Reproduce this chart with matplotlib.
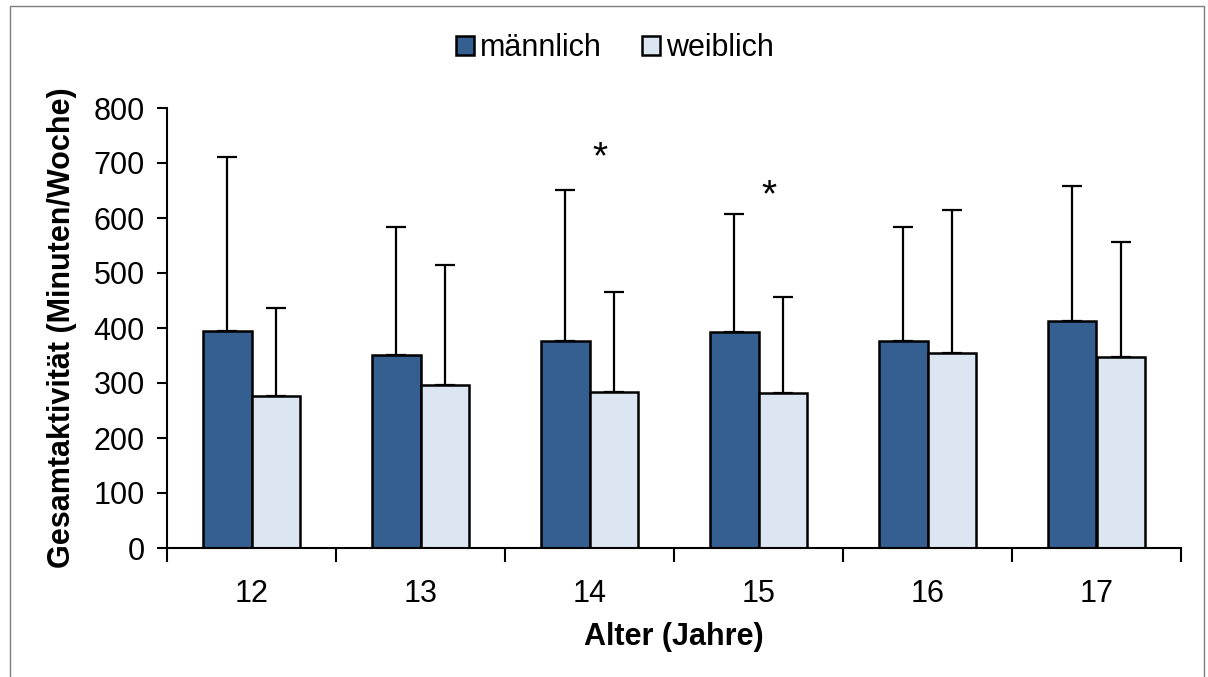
import matplotlib.pyplot as plt
import numpy as np
from matplotlib.patches import Rectangle

plt.rcParams['font.family'] = ['Liberation Sans', 'DejaVu Sans']

alter = ['12', '13', '14', '15', '16', '17']
maennlich = [395, 351, 377, 392, 376, 413]
maennlich_sd = [316, 233, 274, 215, 208, 246]
weiblich = [277, 297, 283, 282, 355, 347]
weiblich_sd = [159, 217, 182, 175, 260, 209]
# Signifikanz-Sterne: (Index, Höhe)
sterne = [(2, 708), (3, 639)]

fig = plt.figure(figsize=(12.08, 6.77), dpi=100)
ax = fig.add_axes([167/1208, 1-548/677, (1181-167)/1208, 440/677])

x = np.arange(len(alter))
w = 0.287
ek = dict(ecolor='black', elinewidth=1.6, capsize=7, capthick=1.6)
ax.bar(x - w/2, maennlich, w, color='#365f91', edgecolor='black', linewidth=1.8,
       yerr=[np.zeros(6), maennlich_sd], error_kw=ek, label='männlich', zorder=2)
ax.bar(x + w/2, weiblich, w, color='#dce6f2', edgecolor='black', linewidth=1.8,
       yerr=[np.zeros(6), weiblich_sd], error_kw=ek, label='weiblich', zorder=2)

for i, h in sterne:
    ax.text(i + 0.06, h, '*', ha='center', va='center', fontsize=28)

ax.set_xlim(-0.5, len(alter) - 0.5)
ax.set_ylim(0, 800)
ax.set_yticks(range(0, 801, 100))
ax.set_xticks(x)
ax.set_xticklabels(alter)
ax.set_xticks(np.arange(-0.5, len(alter), 1.0), minor=True)
ax.tick_params(axis='x', which='major', length=0, pad=22, labelsize=22)
ax.tick_params(axis='x', which='minor', length=10, width=1.5, direction='out')
ax.tick_params(axis='y', length=7, width=1.5, labelsize=22, pad=9)
for s in ['top', 'right']:
    ax.spines[s].set_visible(False)
for s in ['left', 'bottom']:
    ax.spines[s].set_linewidth(1.5)

ax.set_xlabel('Alter (Jahre)', fontsize=22, fontweight='bold', labelpad=10)
ax.set_ylabel('Gesamtaktivität (Minuten/Woche)', fontsize=22, fontweight='bold', labelpad=12)

fig.legend(loc='center', bbox_to_anchor=(615/1208, 1-48/677), ncol=2, frameon=False,
           fontsize=22, handlelength=0.6, handleheight=0.6, handletextpad=0.2,
           columnspacing=1.3, borderpad=0)

fig.patches.append(Rectangle((10/1208, -0.1), (1204-10)/1208, 1.1 - 6/677,
                             transform=fig.transFigure, fill=False, edgecolor='#7f7f7f', linewidth=1))

fig.savefig('out.png', dpi=100)
